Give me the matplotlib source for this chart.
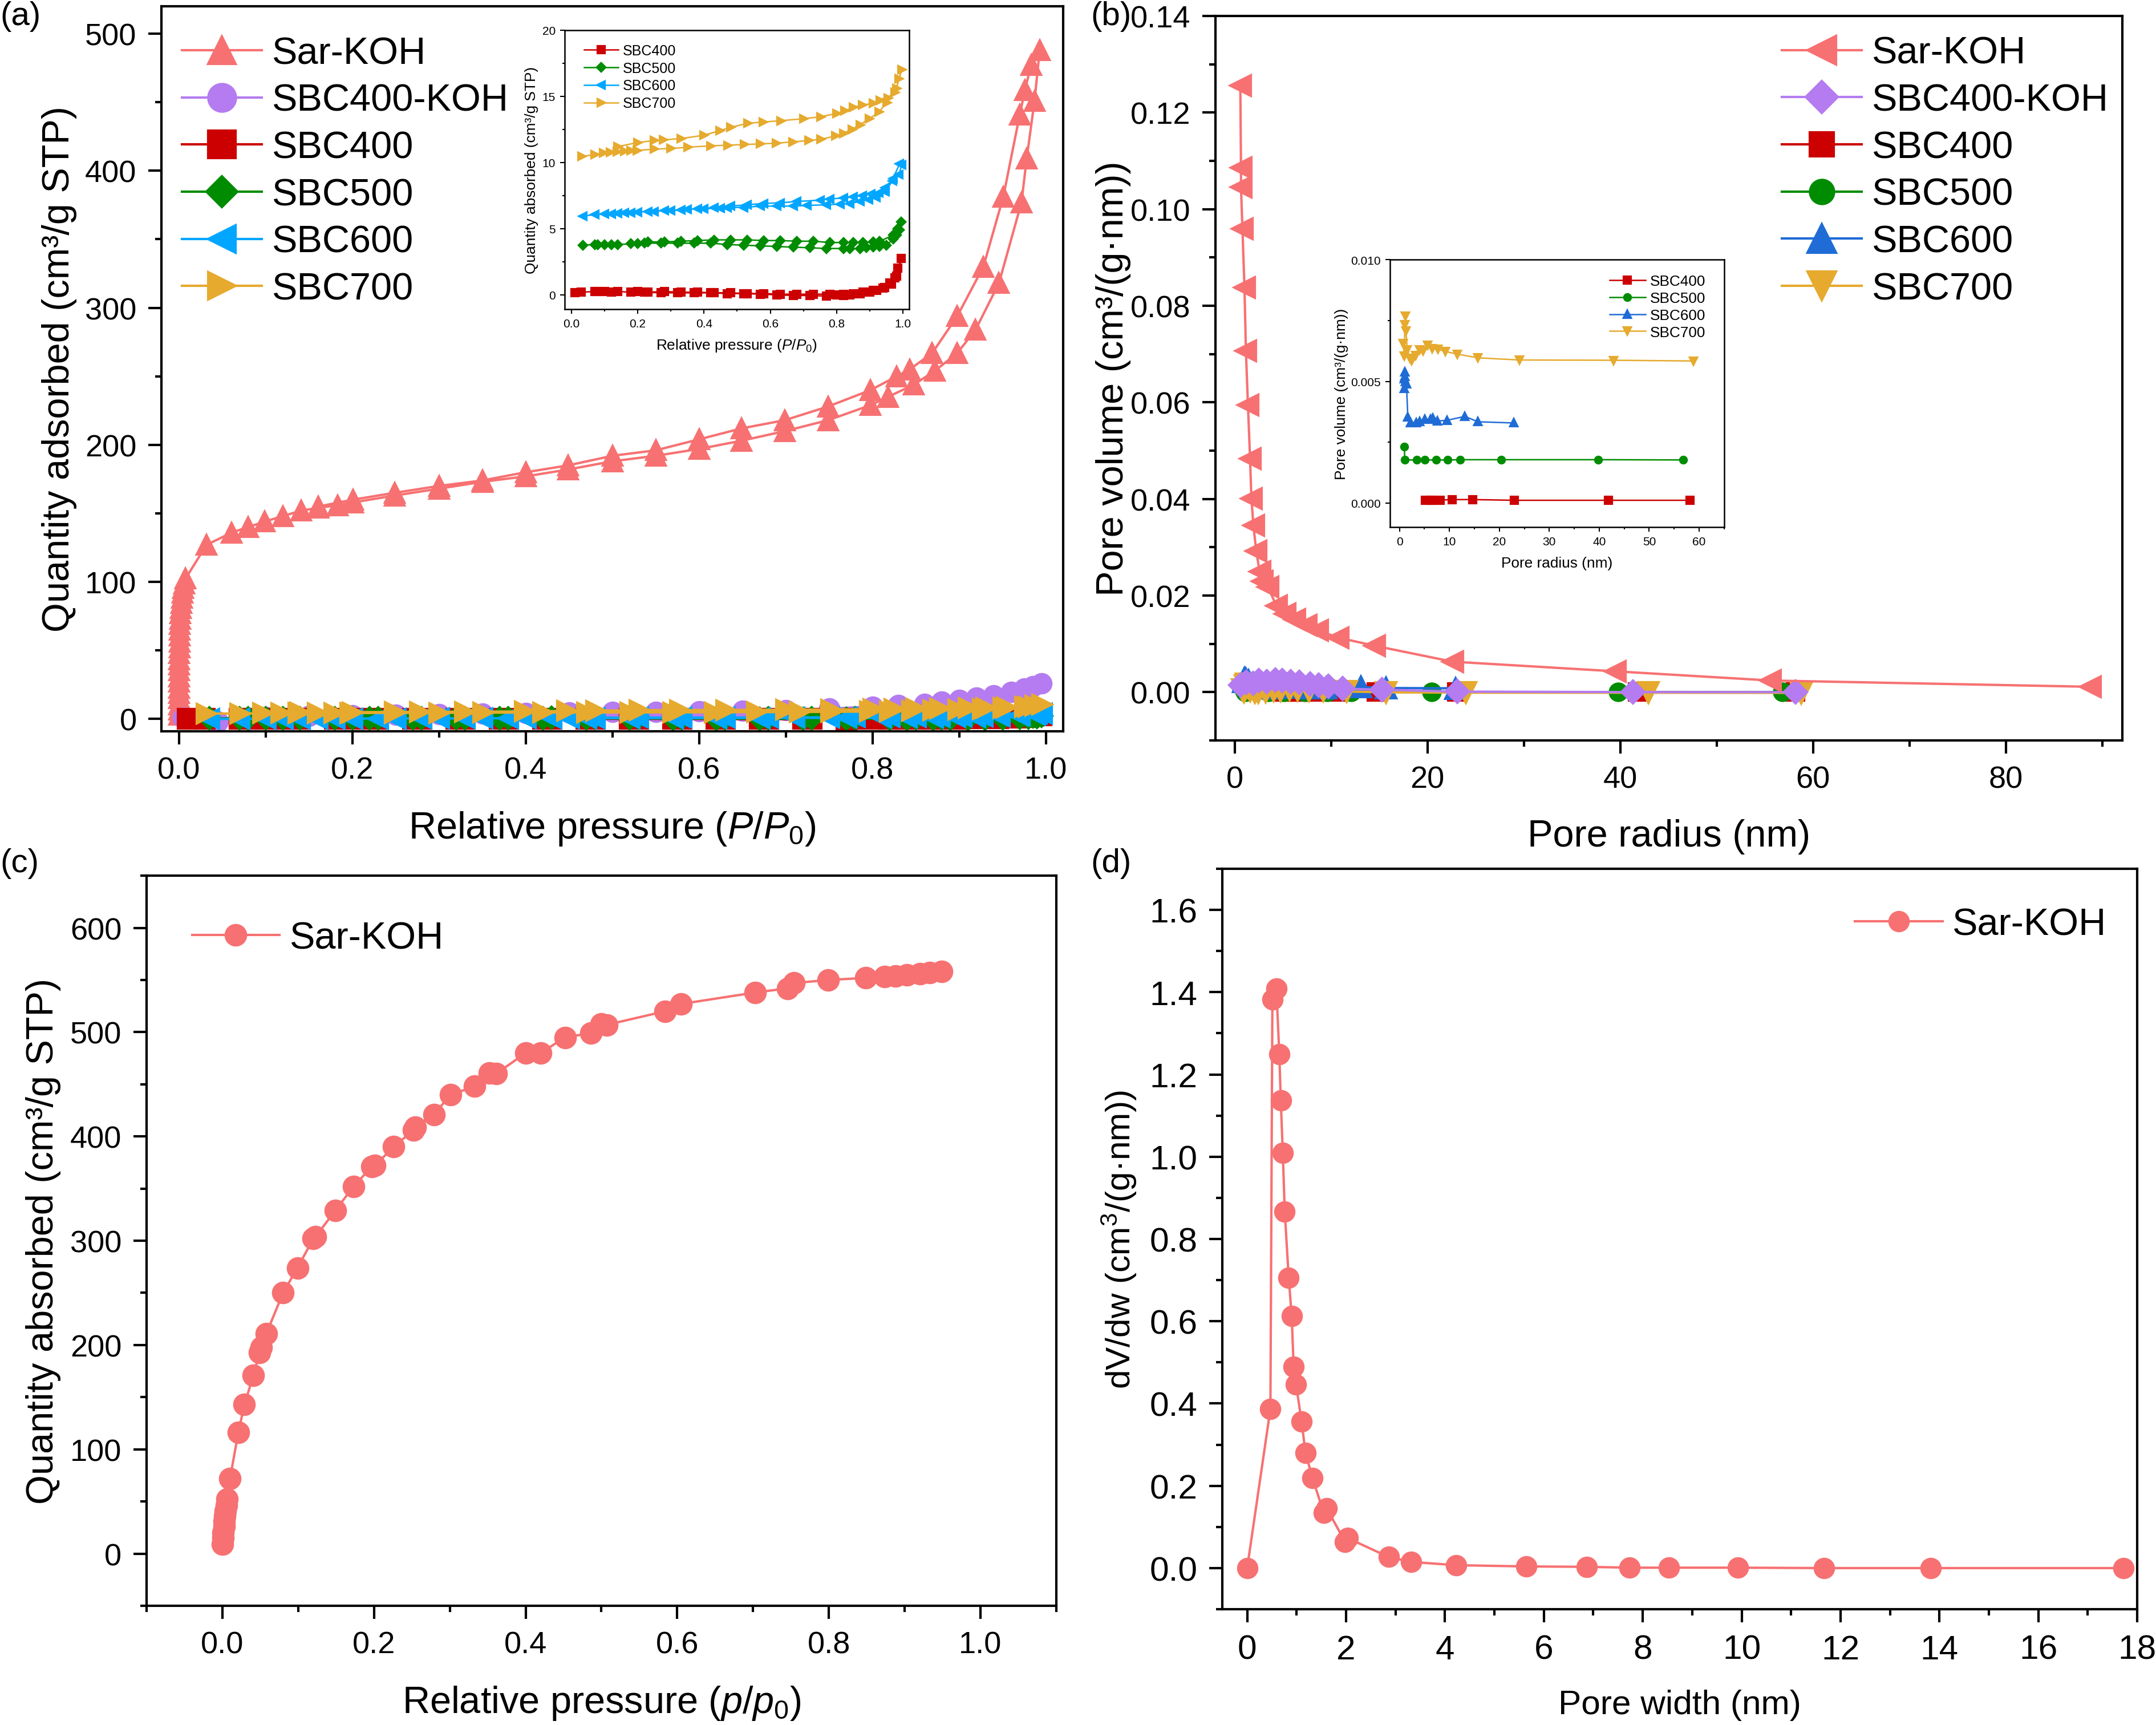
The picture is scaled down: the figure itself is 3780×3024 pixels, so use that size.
import matplotlib
matplotlib.use('Agg')
import matplotlib.pyplot as plt
import matplotlib.ticker as ticker

plt.rcParams['font.family'] = ['Liberation Sans', 'DejaVu Sans']
plt.rcParams['mathtext.fontset'] = 'custom'
plt.rcParams['mathtext.rm'] = 'Liberation Sans'
plt.rcParams['mathtext.it'] = 'Liberation Sans:italic'
plt.rcParams['mathtext.bf'] = 'Liberation Sans:bold'

SAR = '#F77172'
PURPLE = '#B47CF0'
RED = '#CC0000'
GREEN = '#008C00'
LBLUE = '#00A6FF'
DBLUE = '#1F6CD6'
GOLD = '#E6AA2E'

# ---------------- (a) N2 isotherms ----------------
sar_a_p = [0.00002, 0.00004, 0.00006, 0.0001, 0.00013, 0.00017, 0.0002, 0.00025, 0.0003, 0.00037,
           0.00045, 0.00055, 0.00066, 0.0008, 0.00095, 0.0011, 0.0013, 0.0016, 0.0019, 0.0023,
           0.0028, 0.0034, 0.0041, 0.005, 0.0062, 0.0078,
           0.032, 0.061, 0.080, 0.099, 0.120, 0.141, 0.161, 0.183, 0.201, 0.249, 0.300, 0.350,
           0.400, 0.449, 0.500, 0.550, 0.600, 0.649, 0.699, 0.749, 0.798, 0.818, 0.848, 0.872,
           0.898, 0.919, 0.946, 0.972, 0.978, 0.987, 0.993,
           0.983, 0.976, 0.970, 0.951, 0.928, 0.898, 0.869, 0.843, 0.828, 0.798, 0.749, 0.699,
           0.649, 0.600, 0.550, 0.500, 0.449, 0.400, 0.350, 0.300, 0.249, 0.201, 0.161]
sar_a_q = [3.2, 6.8, 10.5, 14.9, 18.7, 22.6, 27.3, 31.0, 35.4, 39.8,
           43.5, 47.9, 52.2, 56.4, 60.7, 64.9, 69.1, 73.0, 77.2, 81.0,
           84.8, 88.5, 92.1, 95.6, 98.8, 102.5,
           127, 136, 140, 144, 148, 152, 154, 156, 158, 163, 168, 173,
           177, 182, 188, 192, 197, 203, 210, 218, 229, 235, 244, 254,
           267, 284, 318, 377, 409, 451, 488,
           477, 459, 441, 381, 330, 294, 267, 255, 250, 240, 228, 218,
           212, 204, 196, 192, 185, 180, 174, 170, 165, 160, 155]

sbc400koh_p = [0.005, 0.045, 0.1, 0.15, 0.2, 0.25, 0.3, 0.35, 0.4, 0.45, 0.5, 0.55, 0.6, 0.65,
               0.7, 0.75, 0.8, 0.83, 0.86, 0.88, 0.9, 0.92, 0.94, 0.96, 0.975, 0.985, 0.995]
sbc400koh_q = [1, -2, 1.5, 2, 2.5, 3, 3.5, 4, 4.2, 4.5, 5, 5.3, 5.6, 6,
               6.5, 7.5, 9, 10, 11, 12.5, 14, 15.5, 17, 19.5, 22, 24, 26]

# SBC isotherms (ads branch then des branch)
sbc400_p = [0.01, 0.03, 0.07, 0.08, 0.10, 0.12, 0.14, 0.18, 0.20, 0.22, 0.27, 0.32, 0.37, 0.42,
            0.47, 0.52, 0.57, 0.62, 0.67, 0.72, 0.77, 0.80, 0.82, 0.84, 0.87, 0.90, 0.92, 0.94,
            0.96, 0.975, 0.985, 0.995,
            0.98, 0.965, 0.945, 0.91, 0.88, 0.85, 0.82, 0.78, 0.73, 0.68, 0.63, 0.58, 0.53,
            0.48, 0.43, 0.38, 0.33, 0.28, 0.23]
sbc400_q = [0.15, 0.2, 0.25, 0.25, 0.25, 0.2, 0.25, 0.2, 0.25, 0.2, 0.15, 0.15, 0.15, 0.15,
            0.1, 0.1, 0.05, 0.0, -0.05, -0.05, -0.1, 0.0, -0.05, 0.0, 0.1, 0.2, 0.35, 0.5,
            0.9, 1.3, 2.0, 2.75,
            1.4, 0.8, 0.55, 0.35, 0.2, 0.1, 0.05, 0.05, 0.05, 0.05, 0.05, 0.1, 0.1,
            0.15, 0.15, 0.2, 0.2, 0.25, 0.2]

sbc500_p = [0.035, 0.07, 0.08, 0.10, 0.12, 0.14, 0.18, 0.20, 0.22, 0.27, 0.32, 0.37, 0.42, 0.47,
            0.52, 0.57, 0.62, 0.67, 0.72, 0.77, 0.82, 0.84, 0.87, 0.89, 0.91, 0.93, 0.95, 0.97,
            0.98, 0.99, 0.995,
            0.985, 0.97, 0.93, 0.91, 0.88, 0.85, 0.82, 0.78, 0.73, 0.68, 0.63, 0.58, 0.53,
            0.48, 0.43, 0.38, 0.33, 0.28, 0.23]
sbc500_q = [3.75, 3.8, 3.8, 3.8, 3.8, 3.8, 3.85, 3.85, 3.9, 3.9, 3.9, 3.9, 3.9, 3.8,
            3.75, 3.7, 3.65, 3.6, 3.55, 3.5, 3.5, 3.5, 3.5, 3.55, 3.6, 3.65, 3.75, 4.2,
            4.5, 4.9, 5.5,
            5.0, 4.5, 4.05, 4.0, 3.95, 3.95, 3.95, 3.95, 4.05, 4.05, 4.1, 4.1, 4.15,
            4.15, 4.15, 4.1, 4.05, 4.0, 4.0]

sbc600_p = [0.035, 0.07, 0.10, 0.12, 0.14, 0.16, 0.18, 0.20, 0.23, 0.25, 0.28, 0.30, 0.33, 0.35,
            0.38, 0.40, 0.45, 0.47, 0.52, 0.57, 0.62, 0.67, 0.71, 0.77, 0.81, 0.84, 0.87, 0.896,
            0.919, 0.947, 0.968, 0.988, 0.996,
            0.99, 0.97, 0.947, 0.927, 0.903, 0.878, 0.85, 0.82, 0.78, 0.75, 0.68, 0.63, 0.58,
            0.53, 0.48, 0.43]
sbc600_q = [5.95, 6.05, 6.1, 6.1, 6.15, 6.2, 6.2, 6.25, 6.3, 6.3, 6.35, 6.35, 6.4, 6.45,
            6.5, 6.5, 6.55, 6.6, 6.6, 6.7, 6.7, 6.7, 6.75, 6.8, 6.85, 6.9, 7.05, 7.2,
            7.35, 7.8, 8.6, 9.1, 9.8,
            9.9, 8.8, 8.1, 7.7, 7.6, 7.5, 7.4, 7.3, 7.25, 7.15, 7.05, 6.95, 6.9,
            6.8, 6.7, 6.6]

sbc700_p = [0.032, 0.071, 0.097, 0.118, 0.138, 0.16, 0.179, 0.198, 0.249, 0.30, 0.351, 0.42,
            0.471, 0.521, 0.57, 0.618, 0.667, 0.716, 0.752, 0.797, 0.82, 0.846, 0.87, 0.899,
            0.927, 0.951, 0.976, 0.988, 0.996,
            0.98, 0.955, 0.931, 0.911, 0.878, 0.85, 0.825, 0.801, 0.752, 0.70, 0.631, 0.578,
            0.531, 0.481, 0.448, 0.399, 0.33, 0.278, 0.249, 0.20, 0.14]
sbc700_q = [10.45, 10.6, 10.7, 10.75, 10.8, 10.85, 10.9, 10.9, 11.0, 11.05, 11.15, 11.25,
            11.3, 11.35, 11.4, 11.45, 11.55, 11.65, 11.75, 12.0, 12.2, 12.5, 12.85, 13.3,
            13.8, 14.5, 15.3, 16.3, 17.0,
            15.6, 14.85, 14.7, 14.45, 14.35, 14.15, 13.9, 13.7, 13.45, 13.3, 13.15, 13.05,
            12.95, 12.65, 12.4, 12.05, 11.8, 11.7, 11.65, 11.5, 11.2]

# the inset curves are stacked upwards; these are the shifts removed for the main panel
shift_a = {'SBC400': 0.0, 'SBC500': 3.4, 'SBC600': 6.0, 'SBC700': 6.6}

# ---------------- (b) BJH pore size distributions ----------------
sar_b_r = [0.57, 0.64, 0.64, 0.79, 1.0, 1.15, 1.36, 1.58, 1.72, 1.93, 2.22, 2.58, 2.87, 3.44,
           4.3, 5.2, 6.2, 7.4, 8.6, 10.7, 14.5, 22.6, 39.5, 55.6, 88.8]
sar_b_v = [0.1256, 0.1086, 0.1046, 0.0959, 0.0838, 0.0707, 0.0595, 0.0484, 0.0401, 0.0345,
           0.0292, 0.0249, 0.0230, 0.0218, 0.0179, 0.0162, 0.0150, 0.0139, 0.0128, 0.0113,
           0.0096, 0.0063, 0.0043, 0.0024, 0.0011]

koh400_b_r = [0.6, 1.2, 1.9, 2.5, 3.3, 4.2, 4.9, 5.8, 6.7, 7.8, 8.7, 9.7, 11.2, 15.3, 23.1,
              41.3, 58.2]
koh400_b_v = [0.0015, 0.0020, 0.0018, 0.0024, 0.0022, 0.0025, 0.0024, 0.0022, 0.0020, 0.0017,
              0.0015, 0.0012, 0.0007, 0.0005, 0.0001, 0.0000, 0.0000]

# SBC distributions (b)
sbc400_r = [5.15, 5.9, 6.4, 6.8, 8.2, 10.6, 14.7, 23.0, 41.8, 58.2]
sbc400_v = [0.00011, 0.00011, 0.00011, 0.00011, 0.00012, 0.00014, 0.00014, 0.00011, 0.00011, 0.00011]

sbc500_r = [0.97, 1.07, 3.52, 5.1, 7.3, 9.6, 12.1, 20.4, 39.8, 56.8]
sbc500_v = [0.00232, 0.00177, 0.00177, 0.00177, 0.00177, 0.00177, 0.00178, 0.00178, 0.00178, 0.00177]

sbc600_r = [0.92, 0.97, 1.02, 1.1, 1.2, 1.4, 1.68, 2.2, 3.37, 4.0, 5.05, 6.2, 6.7, 7.55, 9.5,
            13.1, 15.7, 22.9]
sbc600_v = [0.0047, 0.0051, 0.0054, 0.0052, 0.0050, 0.0049, 0.00353, 0.00331, 0.00331, 0.00334,
            0.00344, 0.00344, 0.00349, 0.00337, 0.0034, 0.00356, 0.00334, 0.00329]

sbc700_r = [0.77, 0.97, 1.07, 1.17, 1.28, 1.58, 2.1, 2.45, 3.2, 4.0, 4.75, 5.66, 6.5, 7.7, 9.2,
            11.6, 15.7, 24.0, 42.9, 58.8]
sbc700_v = [0.00656, 0.00604, 0.00734, 0.00768, 0.00708, 0.0063, 0.00595, 0.00587, 0.00608,
            0.0063, 0.00625, 0.00649, 0.00634, 0.00632, 0.00623, 0.00612, 0.00597, 0.00588,
            0.00587, 0.00584]

shift_b = {'SBC400': 0.0001, 'SBC500': 0.00177, 'SBC600': 0.0025, 'SBC700': 0.006}

# ---------------- (c) Sar-KOH isotherm ----------------
sar_c_p = [0.000, 0.001, 0.001, 0.002, 0.002, 0.003, 0.004, 0.005, 0.006, 0.010, 0.021, 0.029,
           0.041, 0.049, 0.051, 0.058, 0.080, 0.099, 0.120, 0.123, 0.149, 0.173, 0.197, 0.201,
           0.226, 0.252, 0.254, 0.279, 0.301, 0.333, 0.352, 0.361, 0.400, 0.420, 0.452, 0.486,
           0.500, 0.507, 0.584, 0.605, 0.703, 0.746, 0.754, 0.799, 0.849, 0.874, 0.888, 0.903,
           0.920, 0.933, 0.949]
sar_c_q = [9, 15, 20, 26, 31, 36, 41, 46, 52, 72, 116, 143,
           171, 193, 198, 211, 250, 274, 302, 304, 329, 352, 371, 372,
           390, 406, 409, 421, 440, 448, 461, 460, 480, 480, 495, 499,
           508, 507, 520, 527, 538, 542, 547, 550, 552, 553, 554, 555,
           556, 557, 558]

# ---------------- (d) Sar-KOH pore width distribution ----------------
sar_d_w = [0.0, 0.47, 0.51, 0.59, 0.65, 0.68, 0.72, 0.76, 0.84, 0.90, 0.94, 0.99, 1.10, 1.18,
           1.32, 1.55, 1.61, 1.98, 2.03, 2.86, 3.31, 4.23, 5.65, 6.87, 7.73, 8.53, 9.93, 11.67,
           13.82, 17.72]
sar_d_v = [0.0, 0.387, 1.382, 1.409, 1.249, 1.137, 1.010, 0.866, 0.706, 0.613, 0.490, 0.446,
           0.356, 0.280, 0.219, 0.134, 0.145, 0.064, 0.073, 0.027, 0.015, 0.007, 0.004, 0.003,
           0.001, 0.001, 0.001, 0.0, 0.0, 0.0]


def style_axis(ax, xmaj, xmin, ymaj, ymin, lab=13, spine=1.0, tl=5.5, tw=1.0):
    ax.xaxis.set_major_locator(ticker.MultipleLocator(xmaj))
    ax.xaxis.set_minor_locator(ticker.MultipleLocator(xmin))
    ax.yaxis.set_major_locator(ticker.MultipleLocator(ymaj))
    ax.yaxis.set_minor_locator(ticker.MultipleLocator(ymin))
    ax.tick_params(which='both', direction='out', top=False, right=False,
                   width=tw, labelsize=lab, pad=tl * 0.9)
    ax.tick_params(which='major', length=tl)
    ax.tick_params(which='minor', length=tl * 0.48)
    for s in ax.spines.values():
        s.set_linewidth(spine)


P_LABEL = r'Relative pressure ($\mathit{P/P}_{\mathit{0}}$)'
p_LABEL = r'Relative pressure ($\mathit{p/p}_{\mathit{0}}$)'

fig = plt.figure(figsize=(12.6, 10.0833), dpi=300)

# ===== (a) =====
ax = fig.add_axes([0.0749, 0.5759, 0.4182, 0.4201])
ms = 8
ax.plot(sar_a_p, sar_a_q, '-^', color=SAR, ms=ms, lw=1.0, label='Sar-KOH')
ax.plot(sbc400koh_p, sbc400koh_q, '-o', color=PURPLE, ms=ms, lw=1.0, label='SBC400-KOH')
ax.plot(sbc400_p, [q - shift_a['SBC400'] for q in sbc400_q], '-s', color=RED, ms=ms, lw=1.0, label='SBC400')
ax.plot(sbc500_p, [q - shift_a['SBC500'] for q in sbc500_q], '-D', color=GREEN, ms=ms * 0.8, lw=1.0, label='SBC500')
ax.plot(sbc600_p, [q - shift_a['SBC600'] for q in sbc600_q], '-<', color=LBLUE, ms=ms, lw=1.0, label='SBC600')
ax.plot(sbc700_p, [q - shift_a['SBC700'] for q in sbc700_q], '->', color=GOLD, ms=ms, lw=1.0, label='SBC700')
ax.set_xlim(-0.02, 1.02)
ax.set_ylim(-9, 520)
style_axis(ax, 0.2, 0.1, 100, 50)
ax.set_xlabel(P_LABEL, fontsize=16)
ax.set_ylabel('Quantity adsorbed (cm³/g STP)', fontsize=16)
ax.xaxis.set_label_coords(0.5, -0.108)
ax.yaxis.set_label_coords(-0.094, 0.5)
ax.legend(loc='upper left', bbox_to_anchor=(0.023, 0.959), frameon=False, fontsize=16,
          markerscale=1.45, handlelength=2.1, handletextpad=0.25, labelspacing=0.31,
          borderaxespad=0, borderpad=0)

# inset (a)
ia = fig.add_axes([0.2618, 0.8206, 0.1598, 0.1617])
ims = 2.8
ia.plot(sbc400_p, sbc400_q, '-s', color=RED, ms=ims, lw=0.6, label='SBC400')
ia.plot(sbc500_p, sbc500_q, '-D', color=GREEN, ms=ims * 0.85, lw=0.6, label='SBC500')
ia.plot(sbc600_p, sbc600_q, '-<', color=LBLUE, ms=ims, lw=0.6, label='SBC600')
ia.plot(sbc700_p, sbc700_q, '->', color=GOLD, ms=ims, lw=0.6, label='SBC700')
ia.set_xlim(-0.021, 1.018)
ia.set_ylim(-1.07, 20)
style_axis(ia, 0.2, 0.1, 5, 2.5, lab=5, spine=0.6, tl=2.0, tw=0.5)
ia.set_xlabel(P_LABEL, fontsize=6.3)
ia.set_ylabel('Quantity absorbed (cm³/g STP)', fontsize=6.3)
ia.xaxis.set_label_coords(0.5, -0.10)
ia.yaxis.set_label_coords(-0.075, 0.5)
ia.legend(loc='upper left', bbox_to_anchor=(0.057, 0.95), frameon=False, fontsize=6,
          markerscale=1.0, handlelength=2.4, handletextpad=0.3, labelspacing=0.27,
          borderaxespad=0, borderpad=0)

# ===== (b) =====
bx = fig.add_axes([0.5638, 0.5706, 0.4206, 0.4198])
ms = 8.5
bx.plot(sar_b_r, sar_b_v, '-<', color=SAR, ms=ms, lw=1.0, label='Sar-KOH', zorder=6)
bx.plot(koh400_b_r, koh400_b_v, '-D', color=PURPLE, ms=ms * 0.8, lw=1.0, label='SBC400-KOH', zorder=5)
bx.plot(sbc400_r, [v - shift_b['SBC400'] for v in sbc400_v], '-s', color=RED, ms=ms * 0.85, lw=1.0, label='SBC400', zorder=3)
bx.plot(sbc500_r, [v - shift_b['SBC500'] for v in sbc500_v], '-o', color=GREEN, ms=ms * 0.85, lw=1.0, label='SBC500', zorder=3)
bx.plot(sbc600_r, [v - shift_b['SBC600'] for v in sbc600_v], '-^', color=DBLUE, ms=ms, lw=1.0, label='SBC600', zorder=3)
bx.plot(sbc700_r, [v - shift_b['SBC700'] for v in sbc700_v], '-v', color=GOLD, ms=ms, lw=1.0, label='SBC700', zorder=4)
bx.set_xlim(-2, 92.1)
bx.set_ylim(-0.01, 0.14)
style_axis(bx, 20, 10, 0.02, 0.01)
bx.yaxis.set_major_formatter(ticker.FormatStrFormatter('%.2f'))
bx.set_xlabel('Pore radius (nm)', fontsize=16)
bx.set_ylabel('Pore volume (cm³/(g·nm))', fontsize=16)
bx.xaxis.set_label_coords(0.5, -0.108)
bx.yaxis.set_label_coords(-0.093, 0.5)
bx.legend(loc='upper right', bbox_to_anchor=(0.984, 0.9725), frameon=False, fontsize=16,
          markerscale=1.4, handlelength=2.1, handletextpad=0.25, labelspacing=0.31,
          borderaxespad=0, borderpad=0)

# inset (b)
ib = fig.add_axes([0.6447, 0.6941, 0.155, 0.155])
ims = 2.7
ib.plot(sbc400_r, sbc400_v, '-s', color=RED, ms=ims, lw=0.6, label='SBC400')
ib.plot(sbc500_r, sbc500_v, '-o', color=GREEN, ms=ims, lw=0.6, label='SBC500')
ib.plot(sbc600_r, sbc600_v, '-^', color=DBLUE, ms=ims, lw=0.6, label='SBC600')
ib.plot(sbc700_r, sbc700_v, '-v', color=GOLD, ms=ims, lw=0.6, label='SBC700')
ib.set_xlim(-1.9, 65)
ib.set_ylim(-0.001, 0.010)
style_axis(ib, 10, 5, 0.005, 0.0025, lab=5, spine=0.6, tl=2.0, tw=0.5)
ib.yaxis.set_major_formatter(ticker.FormatStrFormatter('%.3f'))
ib.set_xlabel('Pore radius (nm)', fontsize=6.3)
ib.set_ylabel('Pore volume (cm³/(g·nm))', fontsize=6.3)
ib.xaxis.set_label_coords(0.5, -0.109)
ib.yaxis.set_label_coords(-0.125, 0.5)
ib.legend(loc='upper right', bbox_to_anchor=(0.944, 0.945), frameon=False, fontsize=6.3,
          markerscale=1.0, handlelength=2.4, handletextpad=0.3, labelspacing=0.22,
          borderaxespad=0, borderpad=0)

# ===== (c) =====
cx = fig.add_axes([0.068, 0.0691, 0.4219, 0.4231])
cx.plot(sar_c_p, sar_c_q, '-o', color=SAR, ms=8.5, lw=1.0, label='Sar-KOH')
cx.set_xlim(-0.1, 1.1)
cx.set_ylim(-50, 650)
style_axis(cx, 0.2, 0.1, 100, 50)
cx.set_xlabel(p_LABEL, fontsize=16)
cx.set_ylabel('Quantity absorbed (cm³/g STP)', fontsize=16)
cx.xaxis.set_label_coords(0.5, -0.107)
cx.yaxis.set_label_coords(-0.094, 0.5)
cx.legend(loc='upper left', bbox_to_anchor=(0.05, 0.938), frameon=False, fontsize=16,
          markerscale=1.0, handlelength=2.3, handletextpad=0.25,
          borderaxespad=0, borderpad=0)

# ===== (d) =====
dx = fig.add_axes([0.567, 0.0671, 0.4243, 0.4291])
dx.plot(sar_d_w, sar_d_v, '-o', color=SAR, ms=8, lw=1.0, label='Sar-KOH')
dx.set_xlim(-0.5, 18.0)
dx.set_ylim(-0.1, 1.7)
style_axis(dx, 2, 1, 0.2, 0.1, lab=14.5)
dx.yaxis.set_major_formatter(ticker.FormatStrFormatter('%.1f'))
dx.set_xlabel('Pore width (nm)', fontsize=14.5)
dx.set_ylabel(r'dV/dw (cm$^3$/(g·nm))', fontsize=14.5)
dx.xaxis.set_label_coords(0.5, -0.108)
dx.yaxis.set_label_coords(-0.092, 0.5)
dx.legend(loc='upper right', bbox_to_anchor=(0.966, 0.948), frameon=False, fontsize=16,
          markerscale=1.0, handlelength=2.3, handletextpad=0.25,
          borderaxespad=0, borderpad=0)

# panel letters
fig.text(0.0, 1 - 29 / 3025, '(a)', fontsize=14, va='center', ha='left')
fig.text(1912 / 3780, 1 - 29 / 3025, '(b)', fontsize=14, va='center', ha='left')
fig.text(0.0, 1 - 1514 / 3025, '(c)', fontsize=14, va='center', ha='left')
fig.text(1912 / 3780, 1 - 1514 / 3025, '(d)', fontsize=14, va='center', ha='left')

fig.savefig('out.png', dpi=300)
